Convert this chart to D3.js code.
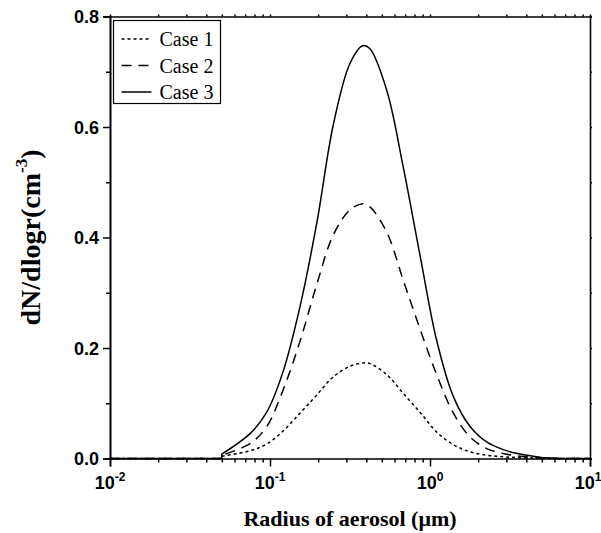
<!DOCTYPE html>
<html>
<head>
<meta charset="utf-8">
<script src="https://cdn.jsdelivr.net/npm/d3@7"></script>
<style>
  body { margin: 0; background: #fff; }
  svg { display: block; }
</style>
</head>
<body>
<svg id="chart" width="601" height="533"></svg>
<script>
// aerosol radius (um) sampled along the curves; outside 0.05..5 the curves sit on zero
var radius = [0.05, 0.075, 0.095, 0.12, 0.154, 0.196, 0.249, 0.316, 0.38, 0.42, 0.536, 0.68, 0.87, 1.10, 1.40, 1.78, 2.26, 2.87, 3.65, 5.0];
var case1 = [0.004, 0.014, 0.026, 0.049, 0.082, 0.115, 0.148, 0.167, 0.173, 0.172, 0.152, 0.118, 0.083, 0.048, 0.025, 0.012, 0.006, 0.003, 0.0015, 0.0003];
var case2 = [0.006, 0.027, 0.057, 0.122, 0.212, 0.315, 0.405, 0.450, 0.461, 0.456, 0.410, 0.323, 0.233, 0.152, 0.082, 0.039, 0.018, 0.009, 0.004, 0.001];
var case3 = [0.008, 0.045, 0.083, 0.155, 0.275, 0.426, 0.605, 0.715, 0.747, 0.742, 0.667, 0.528, 0.365, 0.214, 0.112, 0.058, 0.030, 0.016, 0.008, 0.002];
var seriesNames = ["Case 1", "Case 2", "Case 3"];
var yTicks = [0, 0.2, 0.4, 0.6, 0.8];
var xTickExp = [-2, -1, 0, 1];

const svg = d3.select("#chart");
const margin = { top: 16.5, right: 11, bottom: 74.5, left: 110 };
const width = 601 - margin.left - margin.right;
const height = 533 - margin.top - margin.bottom;

const g = svg.append("g")
    .attr("transform", "translate(" + margin.left + "," + margin.top + ")");

const x = d3.scaleLog().domain([0.01, 10]).range([0, width]);
const y = d3.scaleLinear().domain([0, 0.8]).range([height, 0]);

// minor log ticks
var minorX = [];
[0.01, 0.1, 1].forEach(function (d) {
    for (var k = 2; k <= 9; k++) minorX.push(d * k);
});
var minorY = d3.range(0.1, 0.8, 0.2);

// bottom axis
const xAxis = g.append("g")
    .attr("transform", "translate(0," + height + ")")
    .call(d3.axisBottom(x).tickValues(xTickExp.map(e => Math.pow(10, e))).tickSize(8).tickFormat(""));
xAxis.append("g").call(d3.axisBottom(x).tickValues(minorX).tickSize(4).tickFormat(""));
xAxis.selectAll("path.domain").filter((d, i) => i > 0).remove();

xTickExp.forEach(function (e) {
    var t = g.append("text")
        .attr("x", x(Math.pow(10, e)) + (e == 1 ? -2 : 0))
        .attr("y", height + 30)
        .attr("text-anchor", "middle")
        .style("font-family", "Liberation Sans, Arial, sans-serif")
        .style("font-weight", "bold")
        .style("font-size", "18px");
    t.append("tspan").text("10");
    t.append("tspan").attr("dy", -8).style("font-size", "12px").text(e);
});

// left axis
const yAxis = g.append("g")
    .call(d3.axisLeft(y).tickValues(yTicks).tickSize(7).tickFormat(d3.format(".1f")));
yAxis.append("g").call(d3.axisLeft(y).tickValues(minorY).tickSize(4).tickFormat(""));
yAxis.selectAll("text")
    .style("font-family", "Liberation Sans, Arial, sans-serif")
    .style("font-weight", "bold")
    .style("font-size", "18px")
    .attr("x", -11)
    .attr("dy", "0.36em");

// top and right frame
g.append("g").call(d3.axisTop(x).tickValues(minorX.concat([0.1, 1])).tickSize(2).tickFormat(""))
    .selectAll(".tick line").attr("stroke", "#999");
g.append("g").attr("transform", "translate(" + width + ",0)")
    .call(d3.axisRight(y).tickValues(d3.range(0, 0.81, 0.1)).tickSize(2).tickFormat(""));

svg.selectAll(".domain, .tick line").attr("stroke", "#000").attr("stroke-width", 1.5);
svg.selectAll(".domain").attr("stroke-width", 1.6);

// curves
const styles = [
    { data: case1, dash: "3,3" },
    { data: case2, dash: "10,7" },
    { data: case3, dash: null }
];
const line = d3.line()
    .x((d, i) => x(radius[i]))
    .y(d => y(d))
    .curve(d3.curveCatmullRom.alpha(0.5));

styles.forEach(function (s) {
    var r0 = radius[0], r1 = radius[radius.length - 1];
    var d = "M" + x(0.01) + "," + y(0) + "L" + x(r0) + "," + y(0) +
        "L" + line(s.data).slice(1) + "L" + x(r1 * 1.3) + "," + y(0) + "L" + x(10) + "," + y(0);
    g.append("path")
        .attr("d", d)
        .attr("fill", "none")
        .attr("stroke", "#000")
        .attr("stroke-width", 1.5)
        .attr("stroke-dasharray", s.dash);
});

// legend
const legend = g.append("g").attr("transform", "translate(3.5,4)");
legend.append("rect")
    .attr("width", 107).attr("height", 83)
    .attr("fill", "#fff").attr("stroke", "#000").attr("stroke-width", 1.2);
seriesNames.forEach(function (name, i) {
    var yy = 18.5 + i * 26.5;
    legend.append("line")
        .attr("x1", 8).attr("x2", 38).attr("y1", yy).attr("y2", yy)
        .attr("stroke", "#000").attr("stroke-width", 1.5)
        .attr("stroke-dasharray", styles[i].dash);
    legend.append("text")
        .attr("x", 46).attr("y", yy + 7)
        .style("font-family", "Liberation Serif, Times New Roman, serif")
        .style("font-size", "20px")
        .text(name);
});

// axis titles
svg.append("text")
    .attr("x", margin.left + width / 2)
    .attr("y", 526)
    .attr("text-anchor", "middle")
    .style("font-family", "Liberation Serif, Times New Roman, serif")
    .style("font-weight", "bold")
    .style("font-size", "22px")
    .text("Radius of aerosol (\u03bcm)");

const yt = svg.append("text")
    .attr("transform", "translate(40," + (margin.top + height / 2) + ") rotate(-90)")
    .attr("text-anchor", "middle")
    .style("font-family", "Liberation Serif, Times New Roman, serif")
    .style("font-weight", "bold")
    .style("font-size", "28px");
yt.append("tspan").text("dN/dlogr(cm");
yt.append("tspan").attr("dy", -13).style("font-size", "17px").text("-3");
yt.append("tspan").attr("dy", 13).text(")");
</script>
</body>
</html>
